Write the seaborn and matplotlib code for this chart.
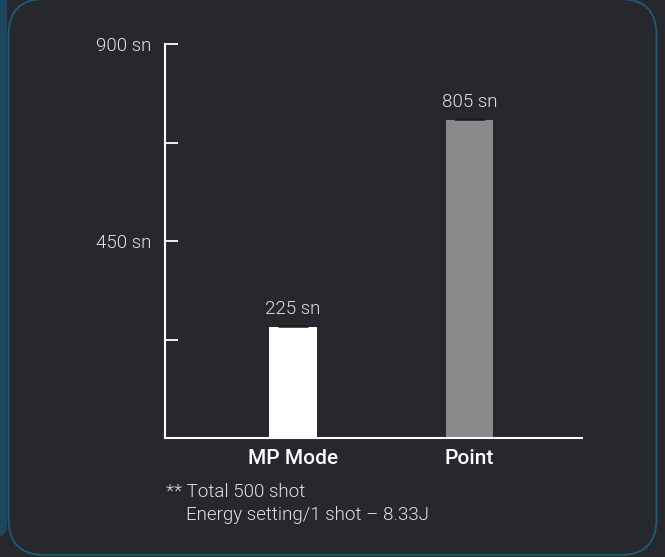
import matplotlib
matplotlib.use("Agg")
import matplotlib.pyplot as plt
import seaborn as sns
import pandas as pd
from matplotlib.patches import FancyBboxPatch

# ---- data ----
categories = ["MP Mode", "Point"]
bar_heights = [253, 726]          # drawn bar heights
bar_labels = ["225 sn", "805 sn"]  # value labels printed above bars
bar_colors = ["#ffffff", "#8a8a8a"]
yticks_major = [450, 900]
ytick_labels = ["450 sn", "900 sn"]
yticks_minor = [225, 675]
footnote_lines = ["** Total 500 shot", "Energy setting/1 shot \u2013 8.33J"]

BG = "#27282d"
TXT = "#e2e2e2"
W = 300
sns.set_theme(style="white")
plt.rcParams["font.family"] = ["Roboto", "DejaVu Sans"]

fig = plt.figure(figsize=(6.65, 5.57), dpi=100)
fig.patch.set_facecolor(BG)

# neighbouring panel strip on the left
fig.patches.append(FancyBboxPatch((-0.4, 0.20), 0.47, 5.6,
                                  boxstyle="round,pad=0,rounding_size=0.12",
                                  transform=fig.dpi_scale_trans,
                                  facecolor="#1c4761", edgecolor="none", zorder=0))
# main panel with rounded border
fig.patches.append(FancyBboxPatch((0.085, 0.02), 6.48, 5.56,
                                  boxstyle="round,pad=0,rounding_size=0.36",
                                  transform=fig.dpi_scale_trans,
                                  facecolor=BG, edgecolor="#1d5b7c", linewidth=1.3, zorder=1))

ax = fig.add_axes([165/665, 1-438/557, (582-165)/665, (438-44)/557])
ax.set_facecolor("none")
ax.set_zorder(5)

df = pd.DataFrame({"cat": categories, "val": bar_heights})
sns.barplot(data=df, x="cat", y="val", hue="cat", palette=bar_colors,
            width=0.27, legend=False, ax=ax, saturation=1, edgecolor="none")

ax.set_xlim(-0.725, 1.638)
ax.set_ylim(0, 900)

# shadow line + labels above bars
for p, lab in zip(ax.patches, bar_labels):
    x0, w, h = p.get_x(), p.get_width(), p.get_height()
    ax.hlines(h + 2.2, x0 + 0.18 * w, x0 + 0.82 * w, color="#1c1c20", lw=1.8, zorder=3)
    ax.text(x0 + w / 2, h + 20, lab, ha="center", va="bottom",
            color=TXT, fontsize=13.5, fontweight=W)

for s in ["top", "right"]:
    ax.spines[s].set_visible(False)
for s in ["left", "bottom"]:
    ax.spines[s].set_color("#ffffff")
    ax.spines[s].set_linewidth(1.5)

ax.set_yticks(yticks_major)
ax.set_yticklabels(ytick_labels)
ax.set_yticks(yticks_minor, minor=True)
ax.tick_params(axis="y", which="both", direction="in", length=9, width=1.3,
               color="#ffffff", labelcolor=TXT, labelsize=13.5, pad=9.5, left=True)
for t in ax.get_yticklabels():
    t.set_fontweight(W)
ax.tick_params(axis="x", length=0, labelcolor="#ffffff", labelsize=15, pad=8)
for t in ax.get_xticklabels():
    t.set_fontweight(500)
ax.set_xlabel("")
ax.set_ylabel("")

fig.text(166/665, 1-492/557, footnote_lines[0], ha="left", va="center",
         color=TXT, fontsize=13.5, fontweight=W)
fig.text(186/665, 1-515/557, footnote_lines[1], ha="left", va="center",
         color=TXT, fontsize=13.5, fontweight=W)

fig.savefig("out.png", dpi=100, facecolor=BG)
